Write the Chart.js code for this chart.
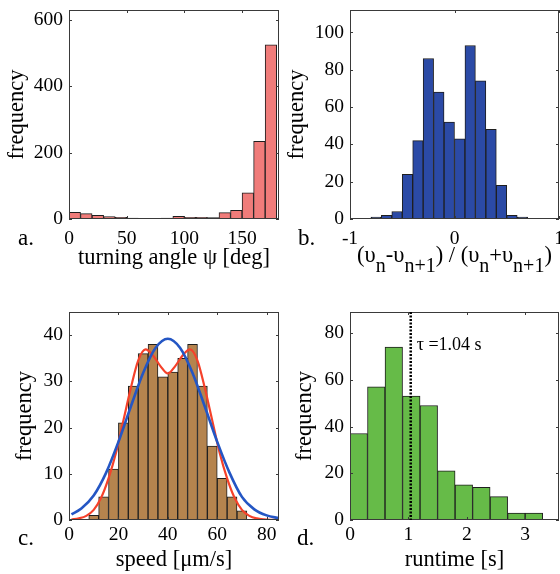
<!DOCTYPE html>
<html><head><meta charset="utf-8">
<script src="https://cdn.jsdelivr.net/npm/chart.js@4.4.1/dist/chart.umd.min.js"></script>
<style>
html,body{margin:0;padding:0;background:#fff;}
body{width:560px;height:574px;position:relative;overflow:hidden;}
canvas{position:absolute;display:block;}
</style></head><body>
<canvas id="ca" width="280" height="280" style="left:0;top:0"></canvas>
<canvas id="cb" width="280" height="280" style="left:280px;top:0"></canvas>
<canvas id="cc" width="280" height="294" style="left:0;top:280px"></canvas>
<canvas id="cd" width="280" height="294" style="left:280px;top:280px"></canvas>
<script>
// ---- Panel a: turning angle histogram (10 deg bins) ----
const angleCentres = [5,15,25,35,45,55,65,75,85,95,105,115,125,135,145,155,165,175];
const angleCounts  = [20,16,11,7,5,3,1,1,3,8,5,5,4,19,26,79,234,525];
const angleXTicks  = [0,50,100,150];
const angleYTicks  = [0,200,400,600];

// ---- Panel b: speed-ratio histogram (0.1 bins) ----
const ratioCentres = [-0.75,-0.65,-0.55,-0.45,-0.35,-0.25,-0.15,-0.05,0.05,0.15,0.25,0.35,0.45,0.55,0.65];
const ratioCounts  = [1,2,4,24,42,86,68,52,43,93,74,48,18,2,1];
const ratioXTicks  = [-1,0,1];
const ratioYTicks  = [0,20,40,60,80,100];

// ---- Panel c: speed histogram (4 um/s bins) + fitted curves ----
const speedCentres = [10,14,18,22,26,30,34,38,42,46,50,54,58,62,66,70];
const speedCounts  = [1,5,11,21,29,36,38,31,32,35,38,29,16,9,5,2];
const gaussX = [1,5,10,15,20,25,30,35,40,45,50,55,60,65,70,75,80,85];
const gaussY = [1.2,2.5,5.3,10.2,16.9,24.5,31.8,37.2,39.2,37.2,31.8,24.5,16.9,10.2,5.0,2.3,1.0,0.4];
const bimodalX = [1,4,7,10,13,16,19,22,25,28,31,34,37,40,43,46,49,52,55,58,61,64,67,70,73,76,80,85];
const bimodalY = [0.1,0.35,0.9,2.2,4.8,9.0,14.5,21.5,28.5,34.5,36.9,35.6,33.3,31.7,33.3,35.6,36.9,34.5,28.5,21.5,14.5,9.0,4.8,2.2,0.9,0.35,0.1,0.05];
const speedXTicks = [0,20,40,60,80];
const speedYTicks = [0,10,20,30,40];

// ---- Panel d: runtime histogram (0.3 s bins) ----
const runCentres = [0.15,0.45,0.75,1.05,1.35,1.65,1.95,2.25,2.55,2.85,3.15];
const runCounts  = [37,57,74,53,49,21,15,14,10,3,3];
const runXTicks  = [0,1,2,3];
const runYTicks  = [0,20,40,60,80];
const tauMean = 1.04;
const tauLabel = 'τ =1.04 s';

const SERIF = "'Liberation Serif','Times New Roman',serif";
const TICK = 19.5, TITLE = 22.5;
Chart.defaults.font.family = SERIF;
Chart.defaults.color = '#000';

const framePlugin = {
  id: 'frame',
  afterDatasetsDraw(chart, args, o) {
    const {ctx, chartArea: {left, top, right, bottom}, scales: {x, y}} = chart;
    ctx.save();
    ctx.strokeStyle = '#3a3a3a';
    ctx.lineWidth = 1;
    ctx.strokeRect(left + 0.5, top + 0.5, right - left - 1, bottom - top - 1);
    ctx.beginPath();
    x.ticks.forEach(t => {
      const px = Math.round(x.getPixelForValue(t.value)) + 0.5;
      ctx.moveTo(px, bottom); ctx.lineTo(px, bottom - 3);
      ctx.moveTo(px, top); ctx.lineTo(px, top + 3);
    });
    y.ticks.forEach(t => {
      const py = Math.round(y.getPixelForValue(t.value)) + 0.5;
      ctx.moveTo(left, py); ctx.lineTo(left + 3, py);
      ctx.moveTo(right, py); ctx.lineTo(right - 3, py);
    });
    ctx.stroke();
    if (o.tau !== undefined) {
      const px = x.getPixelForValue(o.tau);
      ctx.strokeStyle = '#000';
      ctx.lineWidth = 2.5;
      ctx.setLineDash([2, 1.5]);
      ctx.beginPath(); ctx.moveTo(px, top); ctx.lineTo(px, bottom); ctx.stroke();
      ctx.setLineDash([]);
      ctx.fillStyle = '#000';
      ctx.font = '18px ' + SERIF;
      ctx.textBaseline = 'alphabetic';
      ctx.textAlign = 'left';
      ctx.fillText(o.tauText, px + 6, top + 38);
    }
    if (o.letter) {
      ctx.fillStyle = '#000';
      ctx.font = '23px ' + SERIF;
      ctx.textAlign = 'left';
      ctx.textBaseline = 'alphabetic';
      ctx.fillText(o.letter, o.lx, o.ly);
    }
    if (o.ratioTitle) {
      const parts = [['(υ',0],['n',1],['-υ',0],['n+1',1],[') / (υ',0],['n',1],['+υ',0],['n+1',1],[')',0]];
      const mainF = TITLE + 'px ' + SERIF, subF = '20px ' + SERIF;
      let w = 0;
      parts.forEach(p => { ctx.font = p[1] ? subF : mainF; w += ctx.measureText(p[0]).width; });
      let cx = (left + right) / 2 - w / 2;
      ctx.fillStyle = '#000';
      ctx.textAlign = 'left';
      ctx.textBaseline = 'alphabetic';
      parts.forEach(p => {
        ctx.font = p[1] ? subF : mainF;
        ctx.fillText(p[0], cx, p[1] ? o.ty + 10 : o.ty);
        cx += ctx.measureText(p[0]).width;
      });
    }
    ctx.restore();
  }
};

function histChart(id, cfg) {
  const datasets = [{
    type: 'bar',
    data: cfg.centres.map((c, i) => ({x: c, y: cfg.counts[i]})),
    backgroundColor: cfg.color,
    borderColor: '#1e1e1e',
    borderWidth: 1,
    borderSkipped: false,
    barPercentage: 1,
    categoryPercentage: 1,
    order: 3
  }].concat(cfg.extra || []);
  return new Chart(document.getElementById(id), {
    type: 'bar',
    data: {datasets},
    plugins: [framePlugin],
    options: {
      responsive: false,
      animation: false,
      events: [],
      layout: {padding: {top: cfg.padTop, right: 1, left: 0, bottom: 0}},
      plugins: {legend: {display: false}, tooltip: {enabled: false}, frame: cfg.frame},
      scales: {
        x: {
          type: 'linear', offset: false, min: cfg.xmin, max: cfg.xmax,
          grid: {display: false, drawTicks: false}, border: {display: false},
          afterBuildTicks: s => { s.ticks = cfg.xticks.map(v => ({value: v})); },
          ticks: {font: {size: TICK}, padding: cfg.xPad, autoSkip: false, maxRotation: 0, color: '#000'},
          title: cfg.xTitle ? {display: true, text: cfg.xTitle, font: {size: TITLE, lineHeight: 1}, color: '#000', padding: {top: 0, bottom: cfg.xTitlePad}} : {display: false},
          afterFit: s => { s.height = cfg.xH; s.paddingLeft = 0; s.paddingRight = 0; }
        },
        y: {
          type: 'linear', min: 0, max: cfg.ymax,
          grid: {display: false, drawTicks: false}, border: {display: false},
          afterBuildTicks: s => { s.ticks = cfg.yticks.map(v => ({value: v})); },
          ticks: {font: {size: TICK}, padding: 6, color: '#000'},
          title: {display: true, text: 'frequency', font: {size: TITLE, lineHeight: 1}, color: '#000', padding: {top: cfg.yTitlePad, bottom: 0}},
          afterFit: s => { s.width = cfg.yW; s.paddingTop = 0; s.paddingBottom = 0; }
        }
      }
    }
  });
}

histChart('ca', {
  centres: angleCentres, counts: angleCounts, color: '#f07c7a',
  xmin: 0, xmax: 182, ymax: 630, xticks: angleXTicks, yticks: angleYTicks,
  padTop: 10, xH: 61, yW: 69, xPad: 8, xTitle: 'turning angle ψ [deg]', xTitlePad: 10.5, yTitlePad: 5.5,
  frame: {letter: 'a.', lx: 18, ly: 245}
});
histChart('cb', {
  centres: ratioCentres, counts: ratioCounts, color: '#2b4aa6',
  xmin: -1, xmax: 1, ymax: 112, xticks: ratioXTicks, yticks: ratioYTicks,
  padTop: 10, xH: 61, yW: 70, xPad: 8, xTitle: null, yTitlePad: 5.5,
  frame: {letter: 'b.', lx: 18, ly: 245, ratioTitle: true, ty: 262}
});
histChart('cc', {
  centres: speedCentres, counts: speedCounts, color: '#b5844e',
  xmin: 0, xmax: 85, ymax: 45, xticks: speedXTicks, yticks: speedYTicks,
  padTop: 32, xH: 54, yW: 69, xPad: 3, xTitle: 'speed [μm/s]', xTitlePad: 2.5, yTitlePad: 13.5,
  frame: {letter: 'c.', lx: 18, ly: 265},
  extra: [
    {type: 'line', data: bimodalX.map((v, i) => ({x: v, y: bimodalY[i]})), borderColor: '#f5412a', borderWidth: 2.2, pointRadius: 0, cubicInterpolationMode: 'monotone', fill: false, order: 2},
    {type: 'line', data: gaussX.map((v, i) => ({x: v, y: gaussY[i]})), borderColor: '#2456c4', borderWidth: 2.6, pointRadius: 0, cubicInterpolationMode: 'monotone', fill: false, order: 1}
  ]
});
histChart('cd', {
  centres: runCentres, counts: runCounts, color: '#66bb48',
  xmin: 0, xmax: 3.58, ymax: 89, xticks: runXTicks, yticks: runYTicks,
  padTop: 32, xH: 54, yW: 70, xPad: 3, xTitle: 'runtime [s]', xTitlePad: 2.5, yTitlePad: 13.5,
  frame: {letter: 'd.', lx: 17, ly: 265, tau: tauMean, tauText: tauLabel}
});
</script>
</body></html>
